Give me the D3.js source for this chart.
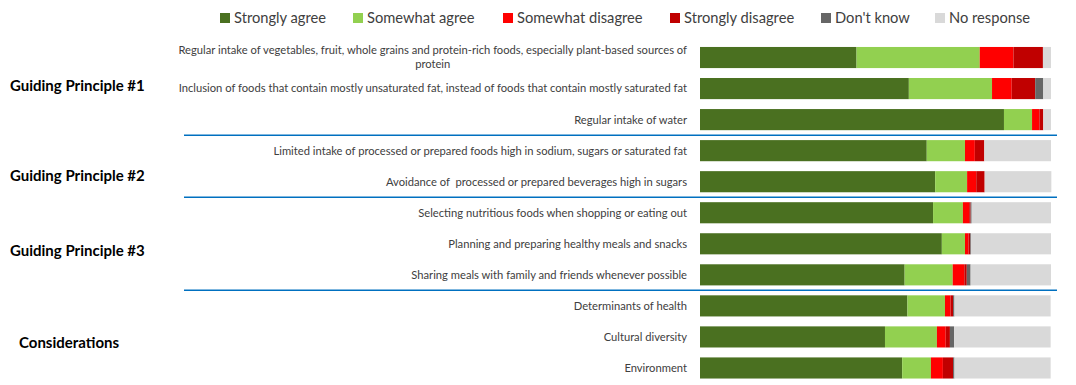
<!DOCTYPE html>
<html><head><meta charset="utf-8">
<script src="https://cdn.jsdelivr.net/npm/d3@7"></script>
<style>
html,body{margin:0;padding:0;background:#fff;}
svg{display:block;}
text{white-space:pre;}
</style></head>
<body>
<svg id="chart" width="1076" height="385"></svg>
<script>
const categories = [
  "Regular intake of vegetables, fruit, whole grains and protein-rich foods, especially plant-based sources of|protein",
  "Inclusion of foods that contain mostly unsaturated fat, instead of foods that contain mostly saturated fat",
  "Regular intake of water",
  "Limited intake of processed or prepared foods high in sodium, sugars or saturated fat",
  "Avoidance of  processed or prepared beverages high in sugars",
  "Selecting nutritious foods when shopping or eating out",
  "Planning and preparing healthy meals and snacks",
  "Sharing meals with family and friends whenever possible",
  "Determinants of health",
  "Cultural diversity",
  "Environment"
];
const seriesNames = ["Strongly agree","Somewhat agree","Somewhat disagree","Strongly disagree","Don't know","No response"];
const seriesColors = ["#4a7020","#92d050","#ff0000","#c00000","#666666","#d9d9d9"];
const stronglyAgree    = [44.6, 59.5, 86.6, 64.6, 67.0, 66.4, 68.9, 58.3, 59.1, 52.7, 57.6];
const somewhatAgree    = [35.1, 23.7,  8.0, 10.9,  9.1,  8.5,  6.6, 13.7, 10.7, 14.8,  8.2];
const somewhatDisagree = [ 9.6,  5.6,  2.1,  2.8,  2.6,  1.8,  1.0,  3.3,  1.6,  2.5,  3.4];
const stronglyDisagree = [ 8.4,  6.7,  1.1,  2.7,  2.4,  0.4,  0.5,  0.7,  0.7,  1.2,  2.9];
const dontKnow         = [ 0.0,  2.3,  0.0,  0.0,  0.0,  0.3,  0.2,  1.1,  0.4,  1.2,  0.4];
const noResponse       = [ 2.3,  2.2,  2.2, 19.0, 19.0, 22.6, 22.8, 22.9, 27.4, 27.5, 27.4];
const groupNames  = ["Guiding Principle #1","Guiding Principle #2","Guiding Principle #3","Considerations"];
const groupStart  = [0, 3, 5, 8];
const groupEnd    = [2, 4, 7, 10];

const seriesValues = [stronglyAgree, somewhatAgree, somewhatDisagree, stronglyDisagree, dontKnow, noResponse];
const rows = categories.map((c, i) => {
  const r = {cat: c};
  seriesNames.forEach((s, j) => r[s] = seriesValues[j][i]);
  return r;
});

const svg = d3.select("#chart");
const x = d3.scaleLinear().domain([0, 100]).range([700, 1051]);
const y = d3.scaleBand().domain(categories).range([42, 383.5]).paddingInner(0.32).paddingOuter(0.16);
const color = d3.scaleOrdinal().domain(seriesNames).range(seriesColors);
const stacked = d3.stack().keys(seriesNames)(rows);

svg.append("g").selectAll("g").data(stacked).join("g")
  .attr("fill", d => color(d.key))
  .selectAll("rect").data(d => d).join("rect")
  .attr("x", d => x(d[0]))
  .attr("width", d => Math.max(0, x(d[1]) - x(d[0])))
  .attr("y", d => y(d.data.cat))
  .attr("height", y.bandwidth());

// category labels
const labelFont = "Lato, 'Open Sans', sans-serif";
const lg = svg.append("g").attr("font-family", labelFont).attr("font-size", 11.2).attr("fill", "#404040");
categories.forEach(c => {
  const lines = c.split("|");
  const cy = y(c) + y.bandwidth() / 2;
  if (lines.length === 1) {
    lg.append("text").attr("x", 687).attr("y", cy).attr("dy", "0.35em").attr("text-anchor", "end").text(lines[0]);
  } else {
    const t1 = lg.append("text").attr("x", 687).attr("y", cy - 7).attr("dy", "0.35em").attr("text-anchor", "end").text(lines[0]);
    const w = t1.node().getComputedTextLength();
    lg.append("text").attr("x", 687 - w / 2).attr("y", cy + 7).attr("dy", "0.35em").attr("text-anchor", "middle").text(lines[1]);
  }
});

// separator lines between groups
const sepG = svg.append("g");
groupStart.slice(1).forEach(s => {
  const yy = (y(categories[s - 1]) + y.bandwidth() + y(categories[s])) / 2;
  sepG.append("line").attr("x1", 184).attr("x2", 1057).attr("y1", yy).attr("y2", yy)
    .attr("stroke", "#0070c0").attr("stroke-width", 1.5);
});

// group labels
const groupDy = [-3, 9.5, 7, 6];
const gg = svg.append("g").attr("font-family", labelFont).attr("font-size", 15).attr("font-weight", "bold").attr("fill", "#000");
groupNames.forEach((g, i) => {
  const cy = (y(categories[groupStart[i]]) + y(categories[groupEnd[i]]) + y.bandwidth()) / 2 + groupDy[i];
  gg.append("text").attr("x", i === 3 ? 19 : 10).attr("y", cy).attr("dy", "0.35em").text(g);
});

// legend
const legendX = [220, 353, 503, 670, 821, 935];
const leg = svg.append("g").attr("font-family", labelFont).attr("font-size", 14.7).attr("fill", "#404040");
seriesNames.forEach((s, i) => {
  leg.append("rect").attr("x", legendX[i]).attr("y", 13).attr("width", 10).attr("height", 10).attr("fill", color(s));
  leg.append("text").attr("x", legendX[i] + 14).attr("y", 18).attr("dy", "0.35em").text(s);
});
</script>
</body></html>
